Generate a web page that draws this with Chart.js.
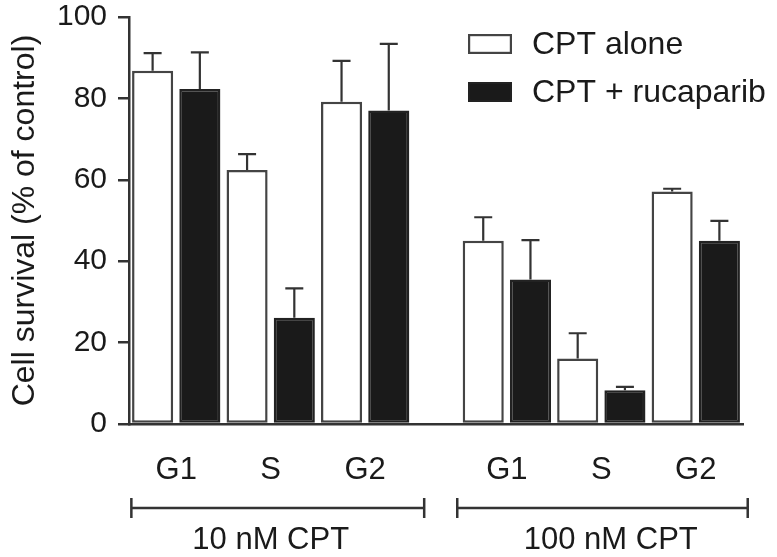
<!DOCTYPE html>
<html><head><meta charset="utf-8">
<script src="https://cdn.jsdelivr.net/npm/chart.js@4.4.1/dist/chart.umd.min.js"></script>
<style>html,body{margin:0;padding:0;background:#fff;}#wrap{width:777px;height:557px;}</style>
</head><body><div id="wrap"><canvas id="c" width="777" height="557"></canvas></div>
<script>
// ---- data ----
const categories = ['G1', 'S', 'G2', 'G1', 'S', 'G2'];
const groupLabels = ['10 nM CPT', '100 nM CPT'];
const seriesNames = ['CPT alone', 'CPT + rucaparib'];
const cptAlone = [86.8, 62.4, 79.2, 45.0, 16.1, 57.1];
const cptAloneErr = [4.3, 3.9, 10.0, 5.8, 6.2, 0.7];
const cptRuca = [82.3, 26.1, 77.0, 35.5, 8.3, 45.0];
const cptRucaErr = [9.0, 7.2, 16.4, 9.7, 0.8, 4.9];
const yTicks = [0, 20, 40, 60, 80, 100];

// ---- layout of bar slots (12 bars + 1 gap slot between the two groups) ----
const nSlots = 13;
const slotOf = i => 2 * i + (i >= 3 ? 1 : 0);
const slotLabels = Array.from({length: nSlots}, (_, k) => String(k));
const aloneData = Array(nSlots).fill(null);
const rucaData = Array(nSlots).fill(null);
const aloneErr = Array(nSlots).fill(null);
const rucaErr = Array(nSlots).fill(null);
categories.forEach((c, i) => {
  aloneData[slotOf(i)] = cptAlone[i]; aloneErr[slotOf(i)] = cptAloneErr[i];
  rucaData[slotOf(i) + 1] = cptRuca[i]; rucaErr[slotOf(i) + 1] = cptRucaErr[i];
});
const labelPos = categories.map((c, i) => slotOf(i) + 0.5);

const FONT = '"Liberation Sans", Arial, Helvetica, sans-serif';
const TXT = '#1a1a1a';
const LINE = '#333333';

const extras = {
  id: 'extras',
  afterDatasetsDraw(chart) {
    const ctx = chart.ctx;
    const ys = chart.scales.y;
    chart.data.datasets.forEach((ds, di) => {
      const meta = chart.getDatasetMeta(di);
      meta.data.forEach((bar, k) => {
        const v = ds.data[k];
        if (v == null) return;
        const e = ds.errors[k];
        const x = bar.x;
        const y0 = ys.getPixelForValue(v);
        const y1 = ys.getPixelForValue(v + e);
        ctx.save();
        ctx.strokeStyle = LINE; ctx.lineWidth = 2.2;
        ctx.beginPath();
        ctx.moveTo(x, y0); ctx.lineTo(x, y1);
        ctx.moveTo(x - 9, y1); ctx.lineTo(x + 9, y1);
        ctx.stroke();
        ctx.restore();
      });
    });
  },
  afterDraw(chart) {
    const ctx = chart.ctx;
    const xs = chart.scales.x2;
    const area = chart.chartArea;
    ctx.save();
    // legend
    const lx = 468, lw = 44, lh = 20;
    const rows = [44, 92];
    chart.data.datasets.forEach((ds, di) => {
      const cy = rows[di];
      ctx.fillStyle = ds.backgroundColor;
      ctx.fillRect(lx, cy - lh / 2, lw, lh);
      ctx.strokeStyle = ds.borderColor; ctx.lineWidth = 2.2;
      ctx.strokeRect(lx + 1.1, cy - lh / 2 + 1.1, lw - 2.2, lh - 2.2);
      ctx.fillStyle = TXT;
      ctx.font = '32px ' + FONT;
      ctx.textAlign = 'left'; ctx.textBaseline = 'middle';
      ctx.fillText(ds.label, 532, cy + 1);
    });
    // group brackets
    const brackets = [[-0.45, 5.75], [6.45, 12.6]];
    const centers = [2.5, 9.7];
    const by = area.bottom + 84;
    ctx.strokeStyle = LINE; ctx.lineWidth = 2.5;
    brackets.forEach((b, gi) => {
      const x0 = xs.getPixelForValue(b[0]), x1 = xs.getPixelForValue(b[1]);
      ctx.beginPath();
      ctx.moveTo(x0, by); ctx.lineTo(x1, by);
      ctx.moveTo(x0, by - 10); ctx.lineTo(x0, by + 10);
      ctx.moveTo(x1, by - 10); ctx.lineTo(x1, by + 10);
      ctx.stroke();
      ctx.fillStyle = TXT;
      ctx.font = '31px ' + FONT;
      ctx.textAlign = 'center'; ctx.textBaseline = 'middle';
      ctx.fillText(groupLabels[gi], xs.getPixelForValue(centers[gi]), by + 32);
    });
    ctx.restore();
  }
};

new Chart(document.getElementById('c'), {
  type: 'bar',
  data: {
    labels: slotLabels,
    datasets: [
      { label: seriesNames[0], data: aloneData, errors: aloneErr,
        backgroundColor: '#ffffff', borderColor: '#444444', borderWidth: 2.5, borderSkipped: false,
        grouped: false, categoryPercentage: 1, barPercentage: 0.87, xAxisID: 'x', yAxisID: 'y' },
      { label: seriesNames[1], data: rucaData, errors: rucaErr,
        backgroundColor: '#1a1a1a', borderColor: '#222222', borderWidth: 2.5, borderSkipped: false,
        grouped: false, categoryPercentage: 1, barPercentage: 0.87, xAxisID: 'x', yAxisID: 'y' }
    ]
  },
  options: {
    responsive: false, animation: false, devicePixelRatio: 1,
    layout: { padding: { top: 17, right: 34, bottom: 0, left: 0 } },
    plugins: { legend: { display: false }, tooltip: { enabled: false } },
    scales: {
      x: { type: 'category', display: false, offset: true },
      x2: {
        type: 'linear', position: 'bottom', min: -0.5, max: 12.5,
        offset: false, bounds: 'data',
        grid: { display: false, offset: false },
        border: { display: true, color: LINE, width: 2.5 },
        afterBuildTicks: s => { s.ticks = labelPos.map(v => ({ value: v })); },
        ticks: {
          autoSkip: false, maxRotation: 0, padding: 20, color: TXT,
          font: { family: FONT, size: 31 },
          callback: v => { const i = labelPos.indexOf(v); return i >= 0 ? categories[i] : ''; }
        },
        afterFit: s => { s.height = 133; s.paddingLeft = 0; s.paddingRight = 0; }
      },
      y: {
        min: 0, max: 100,
        afterBuildTicks: s => { s.ticks = yTicks.map(v => ({ value: v })); },
        ticks: { color: TXT, padding: 11, font: { family: FONT, size: 30 } },
        grid: { display: true, drawOnChartArea: false, drawTicks: true, tickLength: 11, color: LINE, lineWidth: 2.5 },
        border: { display: true, color: LINE, width: 2.5 },
        title: { display: true, text: 'Cell survival (% of control)', color: TXT,
                 font: { family: FONT, size: 32 }, padding: { top: 6, bottom: 0 } },
        afterFit: s => { s.width = 129; s.paddingTop = 0; s.paddingBottom = 0; }
      }
    }
  },
  plugins: [extras]
});
</script>
</body></html>
